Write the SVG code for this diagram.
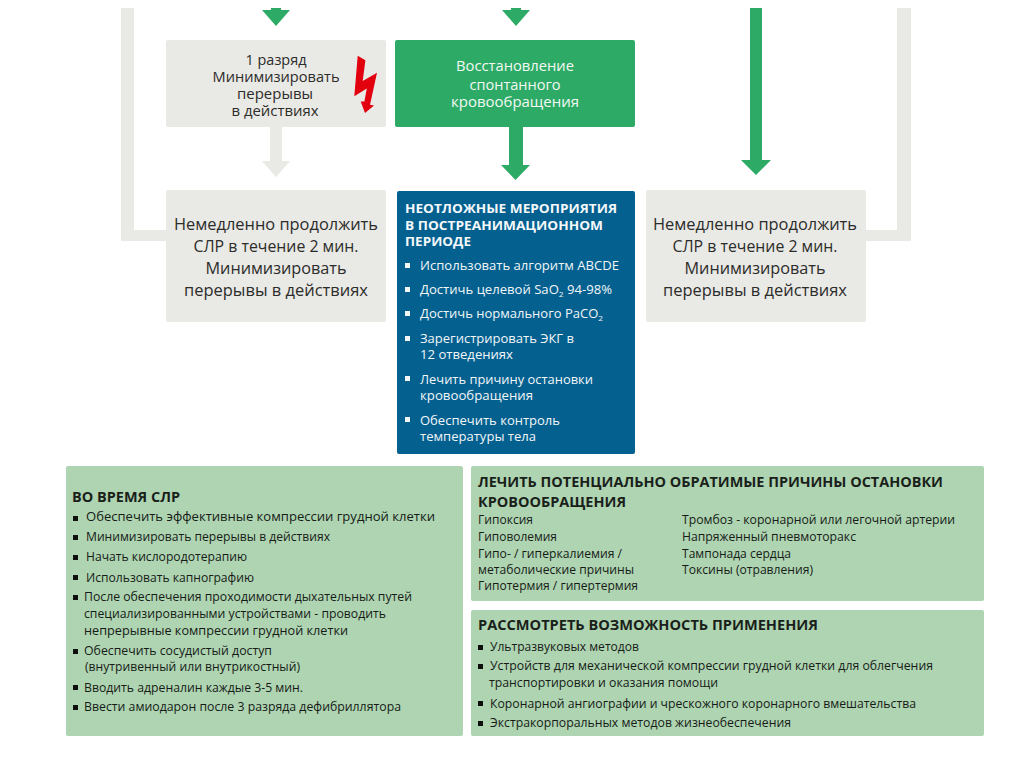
<svg xmlns="http://www.w3.org/2000/svg" width="1024" height="767" viewBox="0 0 1024 767">
<style>
text{font-family:"Open Sans","Noto Sans","DejaVu Sans",sans-serif;lengthAdjust:spacingAndGlyphs}
.g{fill:#e9e9e5}.gt{fill:#2c2c2a;text-anchor:middle}
.big{font-size:16.300px}.sm{font-size:13.600px}
.lg{fill:#aed4b2}
.b{font-size:12px;fill:#161b16}
.h{font-size:14.200px;font-weight:700;fill:#1a1f1a}
.w2{font-size:12.600px;fill:#f2f6f8}
.wh{font-size:12.800px;font-weight:700;fill:#f5f8fa}
.bl{fill:#0c0f0c}
.blw{fill:#f2f6f8}
</style>
<rect width="1024" height="767" fill="#fff"/>
<g id="connectors">
<path class="g" d="M121 8H134V230H170V241H121Z"/>
<path class="g" d="M911 8H897V230H860V241H911Z"/>
<path class="g" d="M270 126H282V161H290L276 177L262 161H270Z"/>
<path fill="#2dab66" d="M271 8H281V10H290L276 26L262 10H271Z"/>
<path fill="#2dab66" d="M511 8H521V10H530L516 26L502 10H511Z"/>
<path fill="#2dab66" d="M509 126H523V165H530L515.500 180L501 165H509Z"/>
<path fill="#2dab66" d="M750 8H762V160H771L756 175L741 160H750Z"/>
</g>
<g id="shock">
<rect class="g" x="166" y="40" width="220" height="87" rx="2"/>
<g class="gt">
<text class="sm" x="276" y="65" textLength="61" lengthAdjust="spacingAndGlyphs">1 разряд</text>
<text class="sm" x="276" y="82" textLength="127" lengthAdjust="spacingAndGlyphs">Минимизировать</text>
<text class="sm" x="275" y="99" textLength="76" lengthAdjust="spacingAndGlyphs">перерывы</text>
<text class="sm" x="275" y="116" textLength="87" lengthAdjust="spacingAndGlyphs">в действиях</text>
</g>
<path fill="#e2000f" d="M357.700 55.800L365.400 60.200L362.700 81L377 72.700L370 104.800L374 105.500L365 113L360.700 101.400L364.400 101.400L366.800 88.600L354.300 96.300Z"/>
</g>
<g id="rosc">
<rect x="395" y="40" width="240" height="87" rx="2" fill="#2dab66"/>
<g fill="#f3f8f4" text-anchor="middle">
<text class="sm" x="515" y="71" textLength="118" lengthAdjust="spacingAndGlyphs">Восстановление</text>
<text class="sm" x="515" y="90" textLength="91" lengthAdjust="spacingAndGlyphs">спонтанного</text>
<text class="sm" x="515" y="107" textLength="128" lengthAdjust="spacingAndGlyphs">кровообращения</text>
</g>
</g>
<g id="cpr-left">
<rect class="g" x="166" y="190" width="220" height="132" rx="2"/>
<g class="gt">
<text class="big" x="276" y="230" textLength="204" lengthAdjust="spacingAndGlyphs">Немедленно продолжить</text>
<text class="big" x="276" y="252" textLength="165" lengthAdjust="spacingAndGlyphs">СЛР в течение 2 мин.</text>
<text class="big" x="276" y="274" textLength="141" lengthAdjust="spacingAndGlyphs">Минимизировать</text>
<text class="big" x="276" y="296" textLength="184" lengthAdjust="spacingAndGlyphs">перерывы в действиях</text>
</g>
</g>
<g id="cpr-right">
<rect class="g" x="646" y="190" width="220" height="132" rx="2"/>
<g class="gt">
<text class="big" x="755" y="230" textLength="204" lengthAdjust="spacingAndGlyphs">Немедленно продолжить</text>
<text class="big" x="755" y="252" textLength="165" lengthAdjust="spacingAndGlyphs">СЛР в течение 2 мин.</text>
<text class="big" x="755" y="274" textLength="141" lengthAdjust="spacingAndGlyphs">Минимизировать</text>
<text class="big" x="755" y="296" textLength="184" lengthAdjust="spacingAndGlyphs">перерывы в действиях</text>
</g>
</g>
<g id="post-arrest">
<rect x="397" y="191" width="238" height="263" rx="2" fill="#03608f"/>
<text class="wh" x="405" y="213" textLength="212" lengthAdjust="spacingAndGlyphs">НЕОТЛОЖНЫЕ МЕРОПРИЯТИЯ</text>
<text class="wh" x="405" y="230" textLength="198" lengthAdjust="spacingAndGlyphs">В ПОСТРЕАНИМАЦИОННОМ</text>
<text class="wh" x="405" y="246" textLength="66" lengthAdjust="spacingAndGlyphs">ПЕРИОДЕ</text>
<g class="blw">
<rect x="405" y="263" width="5" height="5"/><rect x="405" y="287" width="5" height="5"/><rect x="405" y="311" width="5" height="5"/><rect x="405" y="336" width="5" height="5"/><rect x="405" y="376" width="5" height="5"/><rect x="405" y="417" width="5" height="5"/>
</g>
<text class="w2" x="420" y="270" textLength="199" lengthAdjust="spacingAndGlyphs">Использовать алгоритм ABCDE</text>
<text class="w2" x="420" y="294" textLength="192" lengthAdjust="spacingAndGlyphs">Достичь целевой SaO<tspan font-size="8" dy="3">2</tspan><tspan dy="-3"> 94-98%</tspan></text>
<text class="w2" x="420" y="318" textLength="183" lengthAdjust="spacingAndGlyphs">Достичь нормального PaCO<tspan font-size="8" dy="3">2</tspan></text>
<text class="w2" x="420" y="343" textLength="154" lengthAdjust="spacingAndGlyphs">Зарегистрировать ЭКГ в</text>
<text class="w2" x="420" y="359" textLength="93" lengthAdjust="spacingAndGlyphs">12 отведениях</text>
<text class="w2" x="420" y="384" textLength="173" lengthAdjust="spacingAndGlyphs">Лечить причину остановки</text>
<text class="w2" x="420" y="400" textLength="113" lengthAdjust="spacingAndGlyphs">кровообращения</text>
<text class="w2" x="420" y="425" textLength="140" lengthAdjust="spacingAndGlyphs">Обеспечить контроль</text>
<text class="w2" x="420" y="441" textLength="116" lengthAdjust="spacingAndGlyphs">температуры тела</text>
</g>
<g id="during-cpr">
<rect class="lg" x="66" y="466" width="397" height="270" rx="2"/>
<text class="h" x="72" y="502" textLength="108" lengthAdjust="spacingAndGlyphs">ВО ВРЕМЯ СЛР</text>
<g class="bl">
<rect x="73" y="516" width="5" height="5"/><rect x="73" y="535" width="5" height="5"/><rect x="73" y="555" width="5" height="5"/><rect x="73" y="575" width="5" height="5"/><rect x="73" y="595" width="5" height="5"/><rect x="73" y="649" width="5" height="5"/><rect x="73" y="685" width="5" height="5"/><rect x="73" y="705" width="5" height="5"/>
</g>
<text class="b" x="86" y="521" textLength="349" lengthAdjust="spacingAndGlyphs">Обеспечить эффективные компрессии грудной клетки</text>
<text class="b" x="86" y="541" textLength="244" lengthAdjust="spacingAndGlyphs">Минимизировать перерывы в действиях</text>
<text class="b" x="86" y="561" textLength="161" lengthAdjust="spacingAndGlyphs">Начать кислородотерапию</text>
<text class="b" x="86" y="582" textLength="168" lengthAdjust="spacingAndGlyphs">Использовать капнографию</text>
<text class="b" x="84" y="601" textLength="328" lengthAdjust="spacingAndGlyphs">После обеспечения проходимости дыхательных путей</text>
<text class="b" x="84" y="618" textLength="302" lengthAdjust="spacingAndGlyphs">специализированными устройствами - проводить</text>
<text class="b" x="84" y="635" textLength="264" lengthAdjust="spacingAndGlyphs">непрерывные компрессии грудной клетки</text>
<text class="b" x="84" y="655" textLength="188" lengthAdjust="spacingAndGlyphs">Обеспечить сосудистый доступ</text>
<text class="b" x="85" y="671" textLength="215" lengthAdjust="spacingAndGlyphs">(внутривенный или внутрикостный)</text>
<text class="b" x="84" y="692" textLength="219" lengthAdjust="spacingAndGlyphs">Вводить адреналин каждые 3-5 мин.</text>
<text class="b" x="84" y="711" textLength="317" lengthAdjust="spacingAndGlyphs">Ввести амиодарон после 3 разряда дефибриллятора</text>
</g>
<g id="reversible-causes">
<rect class="lg" x="471" y="466" width="513" height="135" rx="2"/>
<text class="h" x="478" y="487" textLength="465" lengthAdjust="spacingAndGlyphs">ЛЕЧИТЬ ПОТЕНЦИАЛЬНО ОБРАТИМЫЕ ПРИЧИНЫ ОСТАНОВКИ</text>
<text class="h" x="478" y="507" textLength="148" lengthAdjust="spacingAndGlyphs">КРОВООБРАЩЕНИЯ</text>
<text class="b" x="478" y="524" textLength="55" lengthAdjust="spacingAndGlyphs">Гипоксия</text>
<text class="b" x="478" y="541" textLength="79" lengthAdjust="spacingAndGlyphs">Гиповолемия</text>
<text class="b" x="478" y="558" textLength="144" lengthAdjust="spacingAndGlyphs">Гипо- / гиперкалиемия /</text>
<text class="b" x="478" y="574" textLength="156" lengthAdjust="spacingAndGlyphs">метаболические причины</text>
<text class="b" x="478" y="590" textLength="160" lengthAdjust="spacingAndGlyphs">Гипотермия / гипертермия</text>
<text class="b" x="682" y="524" textLength="273" lengthAdjust="spacingAndGlyphs">Тромбоз - коронарной или легочной артерии</text>
<text class="b" x="682" y="541" textLength="174" lengthAdjust="spacingAndGlyphs">Напряженный пневмоторакс</text>
<text class="b" x="682" y="558" textLength="109" lengthAdjust="spacingAndGlyphs">Тампонада сердца</text>
<text class="b" x="682" y="574" textLength="131" lengthAdjust="spacingAndGlyphs">Токсины (отравления)</text>
</g>
<g id="consider">
<rect class="lg" x="471" y="610" width="513" height="126" rx="2"/>
<text class="h" x="478" y="630" textLength="340" lengthAdjust="spacingAndGlyphs">РАССМОТРЕТЬ ВОЗМОЖНОСТЬ ПРИМЕНЕНИЯ</text>
<g class="bl">
<rect x="478" y="645" width="5" height="5"/><rect x="478" y="664" width="5" height="5"/><rect x="478" y="701" width="5" height="5"/><rect x="478" y="721" width="5" height="5"/>
</g>
<text class="b" x="490" y="651" textLength="149" lengthAdjust="spacingAndGlyphs">Ультразвуковых методов</text>
<text class="b" x="490" y="670" textLength="443" lengthAdjust="spacingAndGlyphs">Устройств для механической компрессии грудной клетки для облегчения</text>
<text class="b" x="489" y="687" textLength="229" lengthAdjust="spacingAndGlyphs">транспортировки и оказания помощи</text>
<text class="b" x="490" y="708" textLength="426" lengthAdjust="spacingAndGlyphs">Коронарной ангиографии и чрескожного коронарного вмешательства</text>
<text class="b" x="490" y="727" textLength="301" lengthAdjust="spacingAndGlyphs">Экстракорпоральных методов жизнеобеспечения</text>
</g>
</svg>
